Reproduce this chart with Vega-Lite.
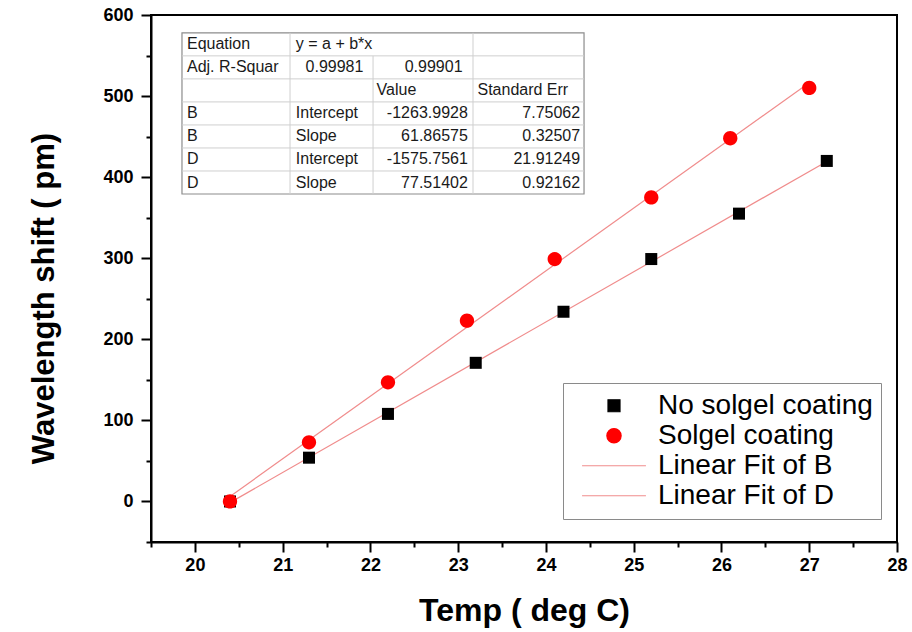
{
  "$schema": "https://vega.github.io/schema/vega-lite/v6.json",
  "width": 746,
  "height": 527,
  "autosize": {"type": "none"},
  "padding": {"left": 151, "top": 15, "right": 15, "bottom": 90},
  "background": "white",
  "config": {
    "view": {"stroke": "black", "strokeWidth": 2},
    "font": "Liberation Sans",
    "axis": {
      "grid": false,
      "domainColor": "black",
      "domainWidth": 2,
      "tickColor": "black",
      "tickWidth": 2,
      "labelFont": "Liberation Sans",
      "labelFontSize": 18,
      "labelFontWeight": "bold",
      "labelColor": "black",
      "labelFlush": false,
      "labelOverlap": false,
      "titleFont": "Liberation Sans",
      "titleFontWeight": "bold",
      "titleColor": "black"
    }
  },
  "datasets": {
    "pts": [
      {"temp": 20.4, "shift": 0, "series": "No solgel coating", "fit": "Linear Fit of B"},
      {"temp": 21.3, "shift": 54, "series": "No solgel coating", "fit": "Linear Fit of B"},
      {"temp": 22.2, "shift": 108, "series": "No solgel coating", "fit": "Linear Fit of B"},
      {"temp": 23.2, "shift": 171, "series": "No solgel coating", "fit": "Linear Fit of B"},
      {"temp": 24.2, "shift": 234, "series": "No solgel coating", "fit": "Linear Fit of B"},
      {"temp": 25.2, "shift": 299, "series": "No solgel coating", "fit": "Linear Fit of B"},
      {"temp": 26.2, "shift": 355, "series": "No solgel coating", "fit": "Linear Fit of B"},
      {"temp": 27.2, "shift": 420, "series": "No solgel coating", "fit": "Linear Fit of B"},
      {"temp": 20.4, "shift": 0, "series": "Solgel coating", "fit": "Linear Fit of D"},
      {"temp": 21.3, "shift": 73, "series": "Solgel coating", "fit": "Linear Fit of D"},
      {"temp": 22.2, "shift": 147, "series": "Solgel coating", "fit": "Linear Fit of D"},
      {"temp": 23.1, "shift": 223, "series": "Solgel coating", "fit": "Linear Fit of D"},
      {"temp": 24.1, "shift": 299, "series": "Solgel coating", "fit": "Linear Fit of D"},
      {"temp": 25.2, "shift": 375, "series": "Solgel coating", "fit": "Linear Fit of D"},
      {"temp": 26.1, "shift": 448, "series": "Solgel coating", "fit": "Linear Fit of D"},
      {"temp": 27.0, "shift": 510, "series": "Solgel coating", "fit": "Linear Fit of D"}
    ],
    "cellsLeft": [
      {"temp": 19.91, "shift": 563.8, "txt": "Equation"},
      {"temp": 21.15, "shift": 563.8, "txt": "y = a + b*x"},
      {"temp": 19.91, "shift": 535.4, "txt": "Adj. R-Squar"},
      {"temp": 22.07, "shift": 507.0, "txt": "Value"},
      {"temp": 23.22, "shift": 507.0, "txt": "Standard Err"},
      {"temp": 19.91, "shift": 478.6, "txt": "B"},
      {"temp": 21.15, "shift": 478.6, "txt": "Intercept"},
      {"temp": 19.91, "shift": 450.2, "txt": "B"},
      {"temp": 21.15, "shift": 450.2, "txt": "Slope"},
      {"temp": 19.91, "shift": 421.8, "txt": "D"},
      {"temp": 21.15, "shift": 421.8, "txt": "Intercept"},
      {"temp": 19.91, "shift": 393.4, "txt": "D"},
      {"temp": 21.15, "shift": 393.4, "txt": "Slope"}
    ],
    "cellsRight": [
      {"temp": 21.92, "shift": 535.4, "txt": "0.99981"},
      {"temp": 23.05, "shift": 535.4, "txt": "0.99901"},
      {"temp": 23.11, "shift": 478.6, "txt": "-1263.9928"},
      {"temp": 24.39, "shift": 478.6, "txt": "7.75062"},
      {"temp": 23.11, "shift": 450.2, "txt": "61.86575"},
      {"temp": 24.39, "shift": 450.2, "txt": "0.32507"},
      {"temp": 23.11, "shift": 421.8, "txt": "-1575.7561"},
      {"temp": 24.39, "shift": 421.8, "txt": "21.91249"},
      {"temp": 23.11, "shift": 393.4, "txt": "77.51402"},
      {"temp": 24.39, "shift": 393.4, "txt": "0.92162"}
    ],
    "grid": [
      {"temp": 19.853, "temp2": 24.434, "shift": 549.6, "shift2": 549.6},
      {"temp": 19.853, "temp2": 24.434, "shift": 521.2, "shift2": 521.2},
      {"temp": 19.853, "temp2": 24.434, "shift": 492.8, "shift2": 492.8},
      {"temp": 19.853, "temp2": 24.434, "shift": 464.4, "shift2": 464.4},
      {"temp": 19.853, "temp2": 24.434, "shift": 436.0, "shift2": 436.0},
      {"temp": 19.853, "temp2": 24.434, "shift": 407.6, "shift2": 407.6},
      {"temp": 21.084, "temp2": 21.084, "shift": 379.2, "shift2": 578.0},
      {"temp": 22.030, "temp2": 22.030, "shift": 379.2, "shift2": 549.6},
      {"temp": 23.169, "temp2": 23.169, "shift": 379.2, "shift2": 578.0}
    ],
    "frame": [
      {"temp": 19.853, "temp2": 24.434, "shift": 379.2, "shift2": 578.0}
    ]
  },
  "encoding": {
    "x": {
      "field": "temp",
      "type": "quantitative",
      "scale": {"domain": [19.5, 28], "nice": false, "zero": false},
      "axis": {
        "title": "Temp ( deg C)",
        "values": [19.5, 20, 20.5, 21, 21.5, 22, 22.5, 23, 23.5, 24, 24.5, 25, 25.5, 26, 26.5, 27, 27.5, 28],
        "tickCount": 100,
        "labelExpr": "datum.value % 1 ? '' : format(datum.value, 'd')",
        "tickSize": {"condition": {"test": "datum.value % 1", "value": 5}, "value": 10},
        "labelPadding": 4,
        "titleFontSize": 32,
        "titlePadding": 21
      }
    },
    "y": {
      "field": "shift",
      "type": "quantitative",
      "scale": {"domain": [-50, 600], "nice": false, "zero": false},
      "axis": {
        "title": "Wavelength shift ( pm)",
        "values": [-50, 0, 50, 100, 150, 200, 250, 300, 350, 400, 450, 500, 550, 600],
        "tickCount": 100,
        "labelExpr": "datum.value % 100 ? '' : format(datum.value, 'd')",
        "tickSize": {"condition": {"test": "datum.value % 100", "value": 5}, "value": 10},
        "labelPadding": 8,
        "titleFontSize": 31,
        "titlePadding": 42,
        "titleY": 283
      }
    }
  },
  "layer": [
    {
      "data": {"name": "frame"},
      "mark": {"type": "rect", "fill": "white", "stroke": "#8c8c8c", "strokeWidth": 1.2},
      "encoding": {
        "x2": {"field": "temp2"},
        "y2": {"field": "shift2"}
      }
    },
    {
      "data": {"name": "grid"},
      "mark": {"type": "rule", "stroke": "#cfcfcf", "strokeWidth": 1},
      "encoding": {
        "x2": {"field": "temp2"},
        "y2": {"field": "shift2"}
      }
    },
    {
      "data": {"name": "cellsLeft"},
      "mark": {"type": "text", "align": "left", "baseline": "middle", "fontSize": 16, "font": "Liberation Sans", "color": "#1a1a1a"},
      "encoding": {
        "text": {"field": "txt"}
      }
    },
    {
      "data": {"name": "cellsRight"},
      "mark": {"type": "text", "align": "right", "baseline": "middle", "fontSize": 16, "font": "Liberation Sans", "color": "#1a1a1a"},
      "encoding": {
        "text": {"field": "txt"}
      }
    },
    {
      "data": {"name": "pts"},
      "transform": [{"regression": "shift", "on": "temp", "groupby": ["fit"]}],
      "mark": {"type": "line", "strokeWidth": 1.2},
      "encoding": {
        "color": {
          "field": "fit",
          "type": "nominal",
          "scale": {
            "domain": ["No solgel coating", "Solgel coating", "Linear Fit of B", "Linear Fit of D"],
            "range": ["#000000", "#ff0000", "#f08c8c", "#f08c8c"]
          },
          "legend": {
            "title": null,
            "orient": "none",
            "legendX": 412,
            "legendY": 368,
            "padding": 8,
            "strokeColor": "#8a8a8a",
            "fillColor": "white",
            "symbolSize": 7056,
            "symbolStrokeWidth": 1.2,
            "clipHeight": 29.5,
            "rowPadding": 0,
            "labelFontSize": 28,
            "labelFont": "Liberation Sans",
            "labelColor": "black",
            "labelOffset": 1,
            "labelLimit": 400,
            "symbolOpacity": 1
          }
        }
      }
    },
    {
      "data": {"name": "pts"},
      "mark": {"type": "point", "filled": true, "size": 7056, "opacity": 1, "strokeWidth": 0},
      "encoding": {
        "color": {
          "field": "series",
          "type": "nominal",
          "scale": {
            "domain": ["No solgel coating", "Solgel coating", "Linear Fit of B", "Linear Fit of D"],
            "range": ["#000000", "#ff0000", "#f08c8c", "#f08c8c"]
          },
          "legend": {
            "title": null,
            "orient": "none",
            "legendX": 412,
            "legendY": 368,
            "padding": 8,
            "strokeColor": "#8a8a8a",
            "fillColor": "white",
            "symbolSize": 7056,
            "symbolStrokeWidth": 1.2,
            "clipHeight": 29.5,
            "rowPadding": 0,
            "labelFontSize": 28,
            "labelFont": "Liberation Sans",
            "labelColor": "black",
            "labelOffset": 1,
            "labelLimit": 400,
            "symbolOpacity": 1,
            "encode": {
              "symbols": {
                "update": {
                  "stroke": {"scale": "color", "field": "value"},
                  "strokeWidth": {"value": 1.2}
                }
              }
            }
          }
        },
        "shape": {
          "field": "series",
          "type": "nominal",
          "scale": {
            "domain": ["No solgel coating", "Solgel coating", "Linear Fit of B", "Linear Fit of D"],
            "range": [
              "M-0.143,-0.143H0.143V0.143H-0.143Z",
              "M0.17,0A0.17,0.17,0,1,1,-0.17,0A0.17,0.17,0,1,1,0.17,0Z",
              "M-0.76,0H0.76",
              "M-0.76,0H0.76"
            ]
          },
          "legend": {
            "title": null,
            "orient": "none",
            "legendX": 412,
            "legendY": 368,
            "padding": 8,
            "strokeColor": "#8a8a8a",
            "fillColor": "white",
            "symbolSize": 7056,
            "symbolStrokeWidth": 1.2,
            "clipHeight": 29.5,
            "rowPadding": 0,
            "labelFontSize": 28,
            "labelFont": "Liberation Sans",
            "labelColor": "black",
            "labelOffset": 1,
            "labelLimit": 400,
            "symbolOpacity": 1
          }
        }
      }
    }
  ]
}
